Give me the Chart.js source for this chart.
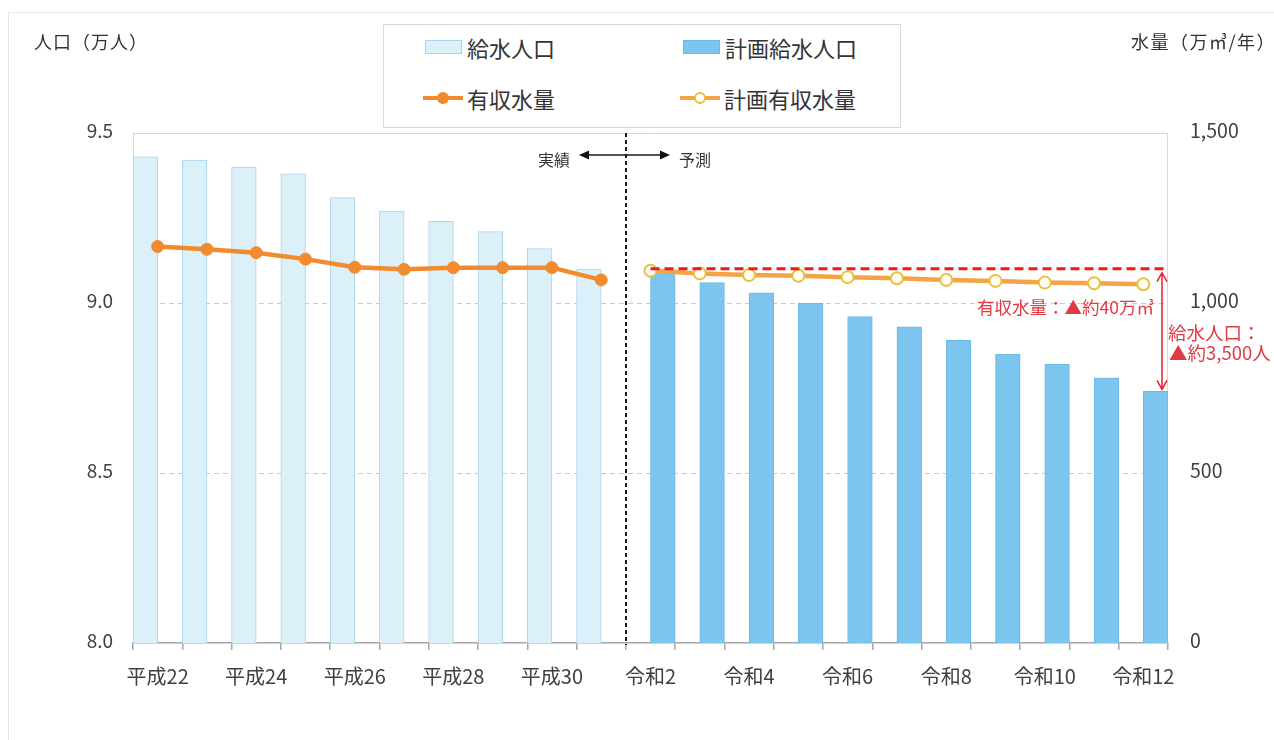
<!DOCTYPE html>
<html lang="ja">
<head>
<meta charset="utf-8">
<title>給水人口と有収水量の推移</title>
<script src="https://cdn.jsdelivr.net/npm/chart.js@4.4.1/dist/chart.umd.min.js"></script>
<style>
  html, body { margin: 0; padding: 0; background: #fff; }
  body {
    width: 1274px; height: 740px; position: relative; overflow: hidden;
    font-family: "Noto Sans CJK JP", "Noto Sans", sans-serif; color: #333;
  }
  #chart { position: absolute; left: 0; top: 0; }
  .frame {
    position: absolute; left: 8px; top: 12px; width: 1400px; height: 900px;
    border-left: 1px solid #e2e2e2; border-top: 1px solid #ececec;
  }
  .axis-title {
    position: absolute; font-size: 18px; line-height: 20px; color: #333; white-space: nowrap;
  }
  .legend {
    position: absolute; left: 383px; top: 24px; width: 518px; height: 104px;
    border: 1px solid #dadada; box-sizing: border-box; background: #fff;
  }
  .item {
    position: absolute; height: 30px; display: flex; align-items: center;
    font-size: 22px; color: #333; white-space: nowrap;
  }
  .sw-bar { width: 37px; height: 14px; box-sizing: border-box; margin-right: 5px; }
  .sw-line { position: relative; width: 40px; height: 14px; margin-right: 4px; }
  .sw-line .ln { position: absolute; left: 0; top: 5px; width: 40px; height: 4px; }
  .sw-line .pt {
    position: absolute; left: 14px; top: 1px; width: 12px; height: 12px;
    border-radius: 50%; box-sizing: border-box;
  }
</style>
</head>
<body>
<div class="frame"></div>
<canvas id="chart" width="1274" height="740"></canvas>

<div class="axis-title" style="left:34px; top:31px; letter-spacing:1px;">人口（万人）</div>
<div class="axis-title" style="left:1131px; top:31px; letter-spacing:1.5px;">水量（万㎥/年）</div>

<div class="legend"></div>
<div class="item" style="left:425px; top:32px;">
  <span class="sw-bar" style="background:#dcf0fa; border:1px solid #a9d5ec;"></span>給水人口
</div>
<div class="item" style="left:683px; top:32px;">
  <span class="sw-bar" style="background:#7cc5ee; border:1px solid #6cb8e4;"></span>計画給水人口
</div>
<div class="item" style="left:423px; top:83px;">
  <span class="sw-line"><span class="ln" style="background:#f28a2e;"></span><span class="pt" style="background:#f28a2e;"></span></span>有収水量
</div>
<div class="item" style="left:680px; top:83px;">
  <span class="sw-line"><span class="ln" style="background:#f5a445;"></span><span class="pt" style="background:#fff; border:2px solid #e8c13e;"></span></span>計画有収水量
</div>

<script>
// 年度（平成22〜平成31は実績、令和2〜令和12は予測）
const years = [
  '平成22', '平成23', '平成24', '平成25', '平成26', '平成27', '平成28', '平成29', '平成30', '平成31',
  '令和2', '令和3', '令和4', '令和5', '令和6', '令和7', '令和8', '令和9', '令和10', '令和11', '令和12'
];

// 給水人口（実績・万人）
const popActual = [9.43, 9.42, 9.40, 9.38, 9.31, 9.27, 9.24, 9.21, 9.16, 9.10];
// 計画給水人口（予測・万人）
const popPlan = [9.09, 9.06, 9.03, 9.00, 8.96, 8.93, 8.89, 8.85, 8.82, 8.78, 8.74];

// 有収水量（実績・万㎥/年）
const waterActual = [1166, 1158, 1148, 1129, 1105, 1099, 1104, 1104, 1104, 1068];
// 計画有収水量（予測・万㎥/年）
const waterPlan = [1095, 1087, 1082, 1080, 1076, 1073, 1068, 1065, 1060, 1058, 1055];

// 左軸・右軸の目盛
const popTicks = [8.0, 8.5, 9.0, 9.5];
const waterTicks = [0, 500, 1000, 1500];

const nActual = popActual.length;
const pad = (arr, before, after) =>
  Array(before).fill(null).concat(arr, Array(after).fill(null));

const popActualData = pad(popActual, 0, years.length - nActual);
const popPlanData = pad(popPlan, nActual, 0);
const waterActualData = pad(waterActual, 0, years.length - nActual);
const waterPlanData = pad(waterPlan, nActual, 0);

const FONT = '"Noto Sans CJK JP", "Noto Sans", sans-serif';
Chart.defaults.font.family = FONT;
Chart.defaults.color = '#404040';

function arrowHead(ctx, x, y, dir, len, half) {
  // filled triangle pointing left (dir=-1) or right (dir=1)
  ctx.beginPath();
  ctx.moveTo(x, y);
  ctx.lineTo(x - dir * len, y - half);
  ctx.lineTo(x - dir * len, y + half);
  ctx.closePath();
  ctx.fill();
}

// 補助線・注記
const decorations = {
  id: 'decorations',
  beforeDatasetsDraw(chart) {
    const { ctx, chartArea: a, scales: { yP } } = chart;
    ctx.save();
    ctx.lineWidth = 1;
    popTicks.forEach(v => {
      if (v === yP.min) return;
      const y = Math.round(yP.getPixelForValue(v)) + 0.5;
      ctx.beginPath();
      if (v === yP.max) { ctx.setLineDash([]); ctx.strokeStyle = '#d9d9d9'; }
      else { ctx.setLineDash([5, 4]); ctx.strokeStyle = '#c9c9c9'; }
      ctx.moveTo(a.left, y);
      ctx.lineTo(a.right, y);
      ctx.stroke();
    });
    ctx.setLineDash([]);
    ctx.strokeStyle = '#d9d9d9';
    ctx.beginPath();
    ctx.moveTo(a.left + 0.5, a.top);
    ctx.lineTo(a.left + 0.5, a.bottom);
    ctx.moveTo(a.right - 0.5, a.top);
    ctx.lineTo(a.right - 0.5, a.bottom);
    ctx.stroke();
    ctx.restore();
  },
  afterDatasetsDraw(chart) {
    const { ctx, chartArea: a, scales: { x, yP, yW } } = chart;
    ctx.save();

    // 実績／予測の境界
    const xd = Math.round((x.getPixelForValue(nActual - 1) + x.getPixelForValue(nActual)) / 2);
    ctx.strokeStyle = '#1a1a1a';
    ctx.lineWidth = 2;
    ctx.setLineDash([4, 3]);
    ctx.beginPath();
    ctx.moveTo(xd, a.top);
    ctx.lineTo(xd, a.bottom + 2);
    ctx.stroke();
    ctx.setLineDash([]);

    const ya = a.top + 22;
    ctx.lineWidth = 1.5;
    ctx.fillStyle = '#111';
    ctx.beginPath();
    ctx.moveTo(xd - 40, ya);
    ctx.lineTo(xd + 37, ya);
    ctx.stroke();
    arrowHead(ctx, xd - 47, ya, -1, 10, 4.5);
    arrowHead(ctx, xd + 44, ya, 1, 10, 4.5);

    ctx.fillStyle = '#333';
    ctx.font = '16px ' + FONT;
    ctx.textBaseline = 'middle';
    ctx.textAlign = 'right';
    ctx.fillText('実績', xd - 56, ya + 5);
    ctx.textAlign = 'left';
    ctx.fillText('予測', xd + 53, ya + 5);

    // 計画有収水量の初年度水準
    const yTop = yW.getPixelForValue(waterPlan[0]) - 2;
    ctx.strokeStyle = '#f01818';
    ctx.lineWidth = 3;
    ctx.setLineDash([9, 5]);
    ctx.beginPath();
    ctx.moveTo(x.getPixelForValue(nActual), yTop);
    ctx.lineTo(a.right - 2, yTop);
    ctx.stroke();
    ctx.setLineDash([]);

    // 計画給水人口の減少幅
    const xr = a.right - 6;
    const yBot = yP.getPixelForValue(popPlan[popPlan.length - 1]) - 2;
    ctx.strokeStyle = '#e8222e';
    ctx.lineWidth = 1.5;
    ctx.beginPath();
    ctx.moveTo(xr, yTop + 4);
    ctx.lineTo(xr, yBot);
    ctx.moveTo(xr - 5, yTop + 13);
    ctx.lineTo(xr, yTop + 4);
    ctx.lineTo(xr + 5, yTop + 13);
    ctx.moveTo(xr - 5, yBot - 9);
    ctx.lineTo(xr, yBot);
    ctx.lineTo(xr + 5, yBot - 9);
    ctx.stroke();

    ctx.fillStyle = '#e23a44';
    ctx.font = '17.5px ' + FONT;
    ctx.textBaseline = 'middle';
    ctx.textAlign = 'right';
    ctx.fillText('有収水量：▲約40万㎥', a.right - 14, yP.getPixelForValue(9.0) + 4);
    ctx.textAlign = 'left';
    ctx.font = '18.5px ' + FONT;
    ctx.fillText('給水人口：', a.right, yP.getPixelForValue(8.9) - 4);
    ctx.fillText('▲約3,500人', a.right + 1, yP.getPixelForValue(8.85) - 1);

    ctx.restore();
  }
};

new Chart(document.getElementById('chart'), {
  data: {
    labels: years,
    datasets: [
      {
        type: 'line', label: '有収水量', data: waterActualData, yAxisID: 'yW', order: 0,
        borderColor: '#f28a2e', backgroundColor: '#f28a2e', borderWidth: 4.5,
        pointRadius: 6, pointBackgroundColor: '#f28a2e', pointBorderColor: '#f28a2e',
        pointBorderWidth: 1, tension: 0, spanGaps: false
      },
      {
        type: 'line', label: '計画有収水量', data: waterPlanData, yAxisID: 'yW', order: 0,
        borderColor: '#f5a445', backgroundColor: '#fff', borderWidth: 4.5,
        pointRadius: 6, pointBackgroundColor: '#fffdf5', pointBorderColor: '#e8c13e',
        pointBorderWidth: 2, tension: 0, spanGaps: false
      },
      {
        type: 'bar', label: '給水人口', data: popActualData, yAxisID: 'yP', order: 1,
        backgroundColor: '#dcf0fa', borderColor: '#a9d5ec', borderWidth: 1,
        categoryPercentage: 1.0, barPercentage: 1.0
      },
      {
        type: 'bar', label: '計画給水人口', data: popPlanData, yAxisID: 'yP', order: 1,
        backgroundColor: '#7cc5ee', borderColor: '#6cb8e4', borderWidth: 1,
        categoryPercentage: 1.0, barPercentage: 1.0
      }
    ]
  },
  options: {
    responsive: false,
    animation: false,
    devicePixelRatio: 1,
    layout: { padding: { top: 133, left: 0, right: 0, bottom: 0 } },
    plugins: { legend: { display: false }, tooltip: { enabled: false } },
    scales: {
      x: {
        offset: true,
        grid: {
          offset: true, drawOnChartArea: false, drawTicks: true, tickLength: 7,
          color: '#a6a6a6', tickColor: '#a6a6a6', lineWidth: 1.5
        },
        border: { display: true, color: '#a6a6a6', width: 1.5 },
        ticks: {
          autoSkip: false, maxRotation: 0, padding: 14,
          font: { size: 20 }, color: '#404040',
          callback: (v, i) => (i % 2 === 0 ? years[i] : '')
        },
        afterFit: s => { s.height = 97; }
      },
      yP: {
        type: 'linear', position: 'left',
        min: popTicks[0], max: popTicks[popTicks.length - 1],
        afterBuildTicks: s => { s.ticks = popTicks.map(v => ({ value: v })); },
        ticks: {
          padding: 20, labelOffset: -2, font: { size: 19 }, color: '#404040',
          callback: v => Number(v).toFixed(1)
        },
        grid: { display: false, drawTicks: false },
        border: { display: false },
        afterFit: s => { s.width = 133; }
      },
      yW: {
        type: 'linear', position: 'right',
        min: waterTicks[0], max: waterTicks[waterTicks.length - 1],
        afterBuildTicks: s => { s.ticks = waterTicks.map(v => ({ value: v })); },
        ticks: {
          padding: 22, labelOffset: -2, font: { size: 19.5 }, color: '#404040',
          callback: v => Number(v).toLocaleString('en-US')
        },
        grid: { display: false, drawTicks: false },
        border: { display: false },
        afterFit: s => { s.width = 106; }
      }
    }
  },
  plugins: [decorations]
});
</script>
</body>
</html>
